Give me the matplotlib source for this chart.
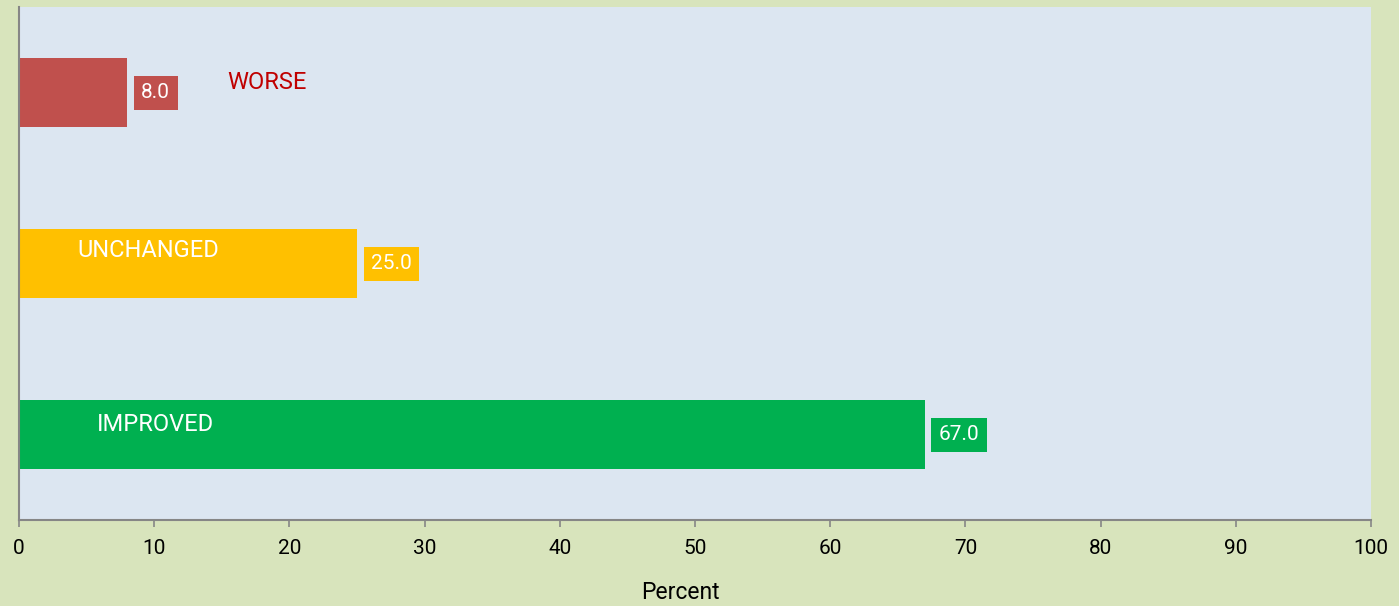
import matplotlib
matplotlib.use("Agg")
import matplotlib.pyplot as plt

plt.rcParams['font.family'] = ['Roboto', 'DejaVu Sans']

categories = ['WORSE', 'UNCHANGED', 'IMPROVED']
values = [8.0, 25.0, 67.0]
bar_colors = ['#c0504d', '#ffc000', '#00b050']
name_colors = ['#c00000', 'white', 'white']
name_x = [15.4, 4.35, 5.75]
name_dy = [-0.06, -0.078, -0.06]
xticks = [0, 10, 20, 30, 40, 50, 60, 70, 80, 90, 100]

fig = plt.figure(figsize=(13.99, 6.06), dpi=100, facecolor='#d8e4bc')
ax = fig.add_axes([19/1399, 1-520/606, (1371-19)/1399, (520-7)/606])
ax.set_facecolor('#dce6f1')

ypos = list(range(len(categories)))
ax.barh(ypos, values, height=0.4, color=bar_colors)
ax.set_xlim(0, 100)
ax.set_ylim(2.5, -0.5)

for y, v, c in zip(ypos, values, bar_colors):
    ax.annotate(f'{v:.1f}', xy=(v, y), xytext=(14, 0), textcoords='offset pixels',
                ha='left', va='center', color='white', fontsize=15,
                bbox=dict(boxstyle='square,pad=0.36', fc=c, ec='none'))

for y, name, c, nx, dy in zip(ypos, categories, name_colors, name_x, name_dy):
    ax.text(nx, y + dy, name, ha='left', va='center', color=c, fontsize=17)

ax.set_xticks(xticks)
ax.set_yticks([])
for s in ['top', 'right']:
    ax.spines[s].set_visible(False)
for s in ['left', 'bottom']:
    ax.spines[s].set_color('#868686')
    ax.spines[s].set_linewidth(1.5)
ax.tick_params(axis='x', length=5, width=1.2, color='#868686', labelsize=15, pad=9)
ax.set_xlabel('Percent', fontsize=16.5)
ax.xaxis.set_label_coords((680-19)/1352, -0.118)

fig.savefig('out.png', dpi=100, facecolor=fig.get_facecolor())
